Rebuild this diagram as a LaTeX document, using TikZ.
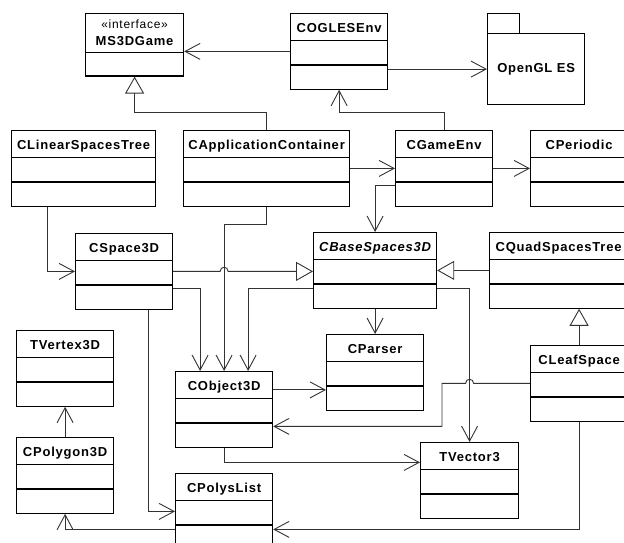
\documentclass[tikz,border=0pt]{standalone}
\usepackage{fontspec}
\setmainfont{Liberation Sans}[LetterSpace=6]
\usetikzlibrary{arrows.meta,calc,shapes.multipart}
\newcommand{\umlparts}[1]{\rule[-8pt]{0pt}{26pt}#1\nodepart{second}\rule{0pt}{23pt}\nodepart{third}\rule{0pt}{23pt}}

\begin{document}
\begin{tikzpicture}[x=1pt,y=-1pt,
  umlclass/.style={rectangle split,rectangle split parts=3,draw,line width=1.2pt,
    inner sep=0pt,minimum width=97pt,anchor=north west,
    font=\fontsize{13}{15}\selectfont\bfseries},
  assoc/.style={draw=black!80,line width=0.9pt,-{Straight Barb[length=15pt,width=16pt]}},
  inherit/.style={draw=black!80,line width=0.9pt,-{Triangle[open,length=17pt,width=19pt]}}]
  \useasboundingbox (0,0) rectangle (624,542);
  \clip (0,0) rectangle (624,542);
  \node[umlclass,rectangle split parts=2,minimum width=98pt] (ms3d) at (85,13)
    {\rule[-7pt]{0pt}{38pt}\begin{tabular}[b]{@{}c@{}}{\mdseries\fontsize{12}{14}\selectfont «interface»}\\[2pt]MS3DGame\end{tabular}\nodepart{second}\rule{0pt}{22pt}};
  \node[umlclass] (ogles) at (290,13) {\umlparts{COGLESEnv}};
  \node[draw,line width=1.2pt,minimum width=32pt,minimum height=20pt,anchor=north west,inner sep=0pt] (ogltab) at (487,13) {};
  \node[draw,line width=1.2pt,minimum width=97pt,minimum height=71pt,anchor=north west,inner sep=0pt,
    font=\fontsize{13}{15}\selectfont\bfseries] (ogl) at (487,33) {OpenGL ES};
  \node[umlclass,minimum width=144pt] (lst) at (11,130) {\umlparts{CLinearSpacesTree}};
  \node[umlclass,minimum width=166pt] (app) at (183,130) {\umlparts{CApplicationContainer}};
  \node[umlclass] (genv) at (395,130) {\umlparts{CGameEnv}};
  \node[umlclass] (per) at (530,130) {\umlparts{CPeriodic}};
  \node[umlclass] (sp3d) at (75,233) {\umlparts{CSpace3D}};
  \node[umlclass,minimum width=123pt] (base) at (313,232) {\umlparts{\itshape CBaseSpaces3D}};
  \node[umlclass,minimum width=138pt] (quad) at (489,232) {\umlparts{CQuadSpacesTree}};
  \node[umlclass] (parser) at (326,334) {\umlparts{CParser}};
  \node[umlclass] (vert) at (16,330) {\umlparts{TVertex3D}};
  \node[umlclass] (obj) at (175,371) {\umlparts{CObject3D}};
  \node[umlclass] (leaf) at (530,345) {\umlparts{CLeafSpace}};
  \node[umlclass] (poly) at (16,437) {\umlparts{CPolygon3D}};
  \node[umlclass,minimum width=98pt] (vec) at (420,442) {\umlparts{TVector3}};
  \node[umlclass] (plist) at (175,473) {\umlparts{CPolysList}};
  \coordinate (h1) at (sp3d.east -| obj.north);
  \coordinate (h2) at (leaf.west -| vec.north);
  \coordinate (bend) at ([xshift=-88pt]leaf.west);
  \coordinate (pin) at ([yshift=-17.5pt]parser.west);
  \draw[assoc] (ogles.west) -- (ogles.west -| ms3d.east);
  \draw[assoc] (ogl.west -| ogles.east) -- (ogl.west);
  \draw[inherit] (app.north) -- ++(0,-18) -| (ms3d.south);
  \draw[assoc] (genv.north) -- ++(0,-18) -| (ogles.south);
  \draw[assoc] (app.east) -- (genv.west);
  \draw[assoc] (genv.east) -- (per.west);
  \draw[assoc] ([xshift=36pt]lst.south west) |- (sp3d.west);
  \draw[inherit] (sp3d.east) -- ([xshift=-4pt]h1) .. controls ([xshift=-4pt,yshift=5.5pt]h1) and ([xshift=4pt,yshift=5.5pt]h1) .. ([xshift=4pt]h1) -- (sp3d.east -| base.west);
  \draw[inherit] (quad.west) -- (base.east);
  \draw[assoc] ([yshift=-17pt]genv.west) -| (base.north);
  \draw[assoc] (base.south) -- (parser.north);
  \draw[assoc] ([yshift=-18pt]base.west) -| ([xshift=24pt]obj.north);
  \draw[assoc] ([yshift=-17pt]sp3d.east) -| ([xshift=-24pt]obj.north);
  \draw[assoc] (app.south) -- ++(0,18) -| (obj.north);
  \draw[assoc] ([xshift=24pt]sp3d.south) |- (plist.west);
  \draw[assoc] (pin -| obj.east) -- (pin);
  \draw[assoc] ([yshift=-18pt]base.east) -| (vec.north);
  \draw[assoc] (leaf.west) -- ([xshift=4pt]h2) .. controls ([xshift=4pt,yshift=5.5pt]h2) and ([xshift=-4pt,yshift=5.5pt]h2) .. ([xshift=-4pt]h2) -- (bend) |- ([yshift=-17pt]obj.east);
  \draw[assoc] (obj.south) |- ([yshift=18pt]vec.west);
  \draw[assoc] (leaf.south) |- ([yshift=-18pt]plist.east);
  \draw[assoc] ([yshift=-18pt]plist.west) -| (poly.south);
  \draw[assoc] (poly.north) -- (vert.south);
  \draw[inherit] (leaf.north) -- (leaf.north |- quad.south);
\end{tikzpicture}
\end{document}
